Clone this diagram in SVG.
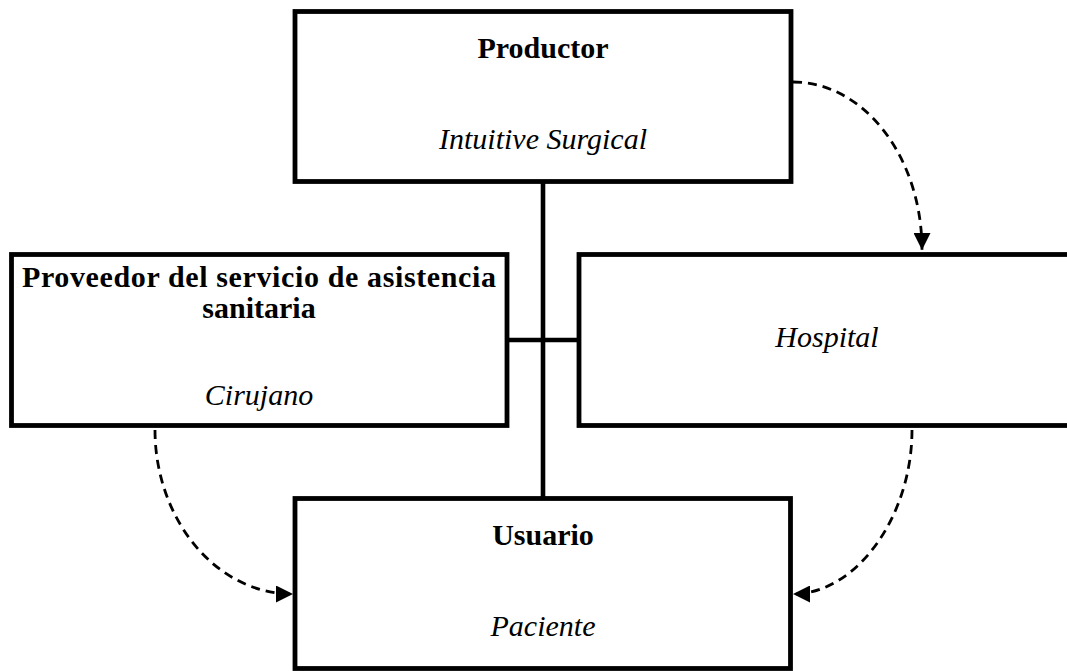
<svg xmlns="http://www.w3.org/2000/svg" width="1067" height="671" viewBox="0 0 1067 671">
  <style>
    .box { fill: #ffffff; stroke: #000000; stroke-width: 4.8; }
    .title { font-family: "Liberation Serif", "DejaVu Serif", serif; font-weight: bold; font-size: 30px; fill: #000; text-anchor: middle; }
    .sub { font-family: "Liberation Serif", "DejaVu Serif", serif; font-style: italic; font-size: 30px; fill: #000; text-anchor: middle; }
    .solid { fill: none; stroke: #000; stroke-width: 4.6; }
    .dash { fill: none; stroke: #000; stroke-width: 2.8; stroke-dasharray: 9 6; }
  </style>
  <defs>
    <marker id="arrow" viewBox="0 0 10 10" refX="10" refY="5" markerUnits="userSpaceOnUse" markerWidth="17" markerHeight="17" orient="auto">
      <path d="M0,0 L10,5 L0,10 Z" fill="#000"/>
    </marker>
  </defs>
  <rect width="1067" height="671" fill="#ffffff"/>

  <g id="connectors">
    <line class="solid" x1="543" y1="181" x2="543" y2="499"/>
    <line class="solid" x1="506" y1="340" x2="580" y2="340"/>
    <path class="dash" d="M793,82 C864,82 922,157 922,250" marker-end="url(#arrow)"/>
    <path class="dash" d="M155,430 C155,517 214,594 293,594" marker-end="url(#arrow)"/>
    <path class="dash" d="M912,430 C912,517 856,594 793,594" marker-end="url(#arrow)"/>
  </g>

  <g id="node-productor">
    <rect class="box" x="295" y="11.5" width="496" height="170"/>
    <text class="title" x="543" y="58">Productor</text>
    <text class="sub" x="543" y="149">Intuitive Surgical</text>
  </g>

  <g id="node-proveedor">
    <rect class="box" x="11.5" y="254.5" width="495.5" height="171"/>
    <text class="title" x="259" y="287" textLength="474" lengthAdjust="spacing">Proveedor del servicio de asistencia</text>
    <text class="title" x="259" y="318">sanitaria</text>
    <text class="sub" x="259" y="405">Cirujano</text>
  </g>

  <g id="node-hospital">
    <rect class="box" x="579" y="254.5" width="495.5" height="171"/>
    <text class="sub" x="827" y="347">Hospital</text>
  </g>

  <g id="node-usuario">
    <rect class="box" x="295" y="498.5" width="495.5" height="170"/>
    <text class="title" x="543" y="545">Usuario</text>
    <text class="sub" x="543" y="636">Paciente</text>
  </g>
</svg>
